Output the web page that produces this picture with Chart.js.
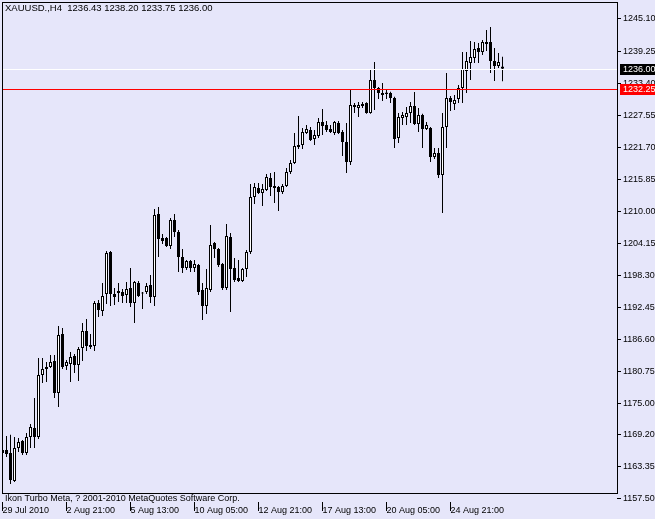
<!DOCTYPE html>
<html>
<head>
<meta charset="utf-8">
<script src="https://cdn.jsdelivr.net/npm/chart.js@4/dist/chart.umd.min.js"></script>
<style>
html, body { margin: 0; padding: 0; background: #e6e6fa; }
canvas { display: block; }
</style>
</head>
<body>
<canvas id="xau" width="655" height="519"></canvas>
<script>
// XAUUSD H4 bars, one entry per bar (bar 0 is cut by the left edge)
var opens = [
  1165.90, 1166.45, 1165.90, 1160.79, 1166.81, 1168.09, 1165.90, 1168.82, 1170.46, 1168.82,
  1180.13, 1181.23, 1181.59, 1182.69, 1176.85, 1187.62, 1181.77, 1182.14, 1183.60, 1181.96,
  1185.06, 1188.16, 1185.61, 1185.43, 1193.27, 1191.81, 1194.91, 1202.58, 1194.91, 1195.46,
  1195.28, 1194.73, 1196.01, 1193.27, 1196.92, 1195.10, 1195.28, 1196.56, 1194.37, 1209.52,
  1205.14, 1205.14, 1203.67, 1208.42, 1206.23, 1201.67, 1199.66, 1200.94, 1199.66, 1200.21,
  1195.64, 1192.73, 1195.64, 1204.22, 1203.13, 1200.39, 1196.01, 1205.32, 1199.66, 1197.84,
  1197.29, 1199.48, 1202.58, 1212.62, 1214.26, 1213.35, 1213.89, 1216.08, 1214.62, 1214.44,
  1213.53, 1214.62, 1217.18, 1218.82, 1222.10, 1222.10, 1224.30, 1224.84, 1223.20, 1223.75,
  1226.30, 1225.76, 1225.03, 1224.30, 1226.12, 1224.48, 1222.65, 1219.00, 1229.04, 1228.86,
  1229.22, 1229.77, 1227.95, 1233.97, 1232.51, 1231.60, 1231.42, 1231.60, 1230.69, 1223.38,
  1227.03, 1227.22, 1227.95, 1229.22, 1225.94, 1227.58, 1225.03, 1225.21, 1219.91, 1220.65,
  1216.63, 1225.39, 1230.69, 1229.59, 1230.50, 1232.51, 1235.61, 1237.07, 1237.99, 1239.81,
  1239.08, 1240.91, 1240.91, 1237.44, 1236.52, 1236.43
];
var highs = [
  1167.36, 1169.00, 1169.20, 1168.82, 1168.64, 1168.27, 1169.55, 1171.19, 1175.93, 1183.24,
  1183.24, 1182.50, 1183.78, 1183.78, 1189.08, 1188.71, 1182.87, 1184.33, 1183.97, 1185.24,
  1189.62, 1190.35, 1187.62, 1193.64, 1193.82, 1196.92, 1202.76, 1202.76, 1196.01, 1196.92,
  1195.83, 1197.11, 1199.66, 1197.29, 1197.29, 1195.28, 1196.92, 1198.38, 1210.43, 1210.79,
  1205.87, 1205.32, 1208.79, 1209.52, 1206.60, 1203.13, 1201.12, 1201.12, 1201.12, 1200.39,
  1196.92, 1199.48, 1207.51, 1204.40, 1203.30, 1200.57, 1207.69, 1206.05, 1201.48, 1201.12,
  1199.66, 1202.94, 1214.99, 1215.17, 1215.17, 1214.99, 1216.81, 1217.00, 1217.18, 1214.62,
  1214.99, 1217.91, 1219.37, 1224.30, 1227.40, 1225.21, 1225.76, 1225.39, 1224.84, 1227.03,
  1228.68, 1226.49, 1225.76, 1226.49, 1226.49, 1224.84, 1226.12, 1232.15, 1229.77, 1229.96,
  1229.96, 1229.90, 1235.79, 1237.26, 1232.69, 1233.42, 1232.15, 1231.80, 1230.90, 1227.95,
  1228.13, 1229.04, 1229.96, 1231.78, 1228.86, 1227.80, 1226.30, 1225.39, 1221.56, 1221.56,
  1227.95, 1235.25, 1231.05, 1231.23, 1233.06, 1239.08, 1239.08, 1241.09, 1240.91, 1240.72,
  1241.27, 1243.10, 1243.64, 1239.81, 1238.90, 1238.20
];
var lows = [
  1164.26, 1165.17, 1160.24, 1160.60, 1166.08, 1165.53, 1165.53, 1166.81, 1166.81, 1168.46,
  1178.67, 1178.85, 1181.41, 1175.93, 1174.29, 1181.23, 1181.05, 1178.85, 1180.50, 1179.04,
  1182.69, 1184.51, 1184.88, 1184.51, 1190.72, 1190.90, 1193.09, 1192.73, 1192.91, 1193.46,
  1193.27, 1193.27, 1192.54, 1189.62, 1194.37, 1192.18, 1194.91, 1193.27, 1192.73, 1201.67,
  1204.04, 1203.50, 1203.13, 1205.32, 1198.93, 1198.75, 1199.30, 1198.93, 1198.93, 1194.73,
  1190.17, 1191.27, 1195.28, 1201.48, 1199.85, 1195.64, 1195.64, 1191.63, 1197.11, 1197.11,
  1197.11, 1198.02, 1202.21, 1211.34, 1213.16, 1210.97, 1213.71, 1212.80, 1211.52, 1210.06,
  1213.16, 1214.44, 1216.81, 1218.64, 1221.37, 1221.37, 1224.11, 1222.84, 1222.10, 1223.38,
  1223.93, 1224.48, 1224.30, 1223.93, 1224.11, 1220.10, 1217.00, 1218.45, 1227.95, 1227.22,
  1228.86, 1227.80, 1227.80, 1228.49, 1230.50, 1230.14, 1230.50, 1229.77, 1221.56, 1222.47,
  1225.76, 1225.76, 1226.12, 1225.76, 1224.48, 1221.56, 1224.84, 1219.00, 1219.55, 1216.08,
  1209.70, 1221.56, 1228.31, 1228.49, 1229.77, 1229.77, 1231.60, 1233.97, 1237.07, 1237.07,
  1238.53, 1239.26, 1235.25, 1233.79, 1236.16, 1233.75
];
var closes = [
  1166.45, 1165.72, 1160.97, 1166.81, 1167.91, 1165.90, 1168.82, 1170.65, 1168.82, 1180.13,
  1181.23, 1181.59, 1182.50, 1176.85, 1187.43, 1181.59, 1182.50, 1183.42, 1181.96, 1184.88,
  1188.16, 1185.43, 1185.24, 1193.27, 1192.00, 1194.55, 1202.40, 1194.91, 1194.37, 1195.10,
  1194.55, 1195.83, 1193.27, 1197.11, 1194.55, 1195.00, 1196.37, 1194.37, 1209.33, 1204.95,
  1204.59, 1203.67, 1208.42, 1206.23, 1201.67, 1199.66, 1200.94, 1199.66, 1200.39, 1195.28,
  1192.73, 1196.01, 1203.86, 1203.13, 1200.21, 1196.01, 1205.50, 1199.48, 1197.47, 1197.29,
  1199.48, 1202.58, 1212.62, 1214.44, 1213.35, 1214.08, 1216.27, 1214.44, 1214.26, 1213.53,
  1214.62, 1217.18, 1218.82, 1221.92, 1221.74, 1224.48, 1225.03, 1223.02, 1223.93, 1226.30,
  1225.57, 1224.84, 1224.48, 1226.30, 1224.30, 1222.65, 1219.00, 1229.41, 1229.41, 1229.41,
  1229.59, 1227.95, 1233.97, 1232.51, 1231.60, 1231.23, 1231.70, 1230.69, 1223.20, 1227.22,
  1227.58, 1227.95, 1229.22, 1225.94, 1227.58, 1225.03, 1225.76, 1219.91, 1220.65, 1216.63,
  1225.39, 1230.69, 1229.96, 1230.32, 1232.51, 1235.98, 1237.44, 1238.17, 1239.63, 1239.08,
  1240.91, 1240.54, 1237.44, 1236.52, 1237.26, 1236.00
];

var priceTicks = [1245.10, 1239.25, 1233.40, 1227.55, 1221.70, 1215.85, 1210.00, 1204.15,
  1198.30, 1192.45, 1186.60, 1180.75, 1175.00, 1169.20, 1163.35, 1157.50];
var timeTickBars = [0, 16, 32, 48, 64, 80, 96, 112];
var timeTickLabels = ['29 Jul 2010', '2 Aug 21:00', '5 Aug 13:00', '10 Aug 05:00',
  '12 Aug 21:00', '17 Aug 13:00', '20 Aug 05:00', '24 Aug 21:00'];

var bidPrice = 1236.00;
var levelPrice = 1232.25;
var header = 'XAUUSD.,H4  1236.43 1238.20 1233.75 1236.00';
var copyright = 'Ikon Turbo Meta, ? 2001-2010 MetaQuotes Software Corp.';

var font = '9px "Liberation Sans"';
Chart.defaults.font.family = '"Liberation Sans", Arial, sans-serif';
Chart.defaults.font.size = 9;
Chart.defaults.color = '#000000';

var wicks = [], bodies = [], bodyColors = [];
for (var i = 0; i < opens.length; i++) {
  wicks.push({ x: i, y: [lows[i], highs[i]] });
  bodies.push({ x: i, y: [opens[i], closes[i]] });
  bodyColors.push(closes[i] >= opens[i] ? '#ffffff' : '#000000');
}

var mt4 = {
  id: 'mt4',
  afterDraw: function (chart) {
    var ctx = chart.ctx, a = chart.chartArea, ys = chart.scales.y, xs = chart.scales.x;
    ctx.save();

    // bid line and the red level line
    ctx.fillStyle = 'white';
    ctx.fillRect(a.left, Math.round(ys.getPixelForValue(bidPrice)), a.right - a.left, 1);
    ctx.fillStyle = 'red';
    ctx.fillRect(a.left, Math.round(ys.getPixelForValue(levelPrice)), a.right - a.left, 1);

    ctx.strokeStyle = '#000000';
    ctx.lineWidth = 1;
    ctx.strokeRect(a.left + 0.5, a.top + 0.5, a.right - a.left, a.bottom - a.top);

    // time separators next to the labels
    ctx.beginPath();
    timeTickBars.forEach(function (b) {
      var px = Math.floor(xs.getPixelForValue(b)) + 0.5;
      ctx.moveTo(px, a.bottom + 9);
      ctx.lineTo(px, a.bottom + 18);
    });
    ctx.stroke();

    ctx.fillStyle = '#000000';
    ctx.textAlign = 'left';
    ctx.textBaseline = 'top';
    ctx.font = '9.5px "Liberation Sans"';
    ctx.fillText(header, a.left + 3, a.top + 2);
    ctx.font = font;
    ctx.textBaseline = 'middle';
    ctx.fillText(copyright, a.left + 3, a.bottom + 6);

    // price boxes on the scale
    [[bidPrice, '#000000'], [levelPrice, '#ff0000']].forEach(function (l) {
      var py = Math.round(ys.getPixelForValue(l[0]));
      ctx.fillStyle = l[1];
      ctx.fillRect(a.right + 3, py - 5, chart.width - a.right - 3, 11);
      ctx.fillStyle = '#ffffff';
      ctx.fillText(l[0].toFixed(2), a.right + 6, py + 0.5);
    });
    ctx.restore();
  }
};

var chartXau = new Chart(document.getElementById('xau').getContext('2d'), {
  type: 'bar',
  data: {
    datasets: [{
      label: 'body',
      data: bodies,
      order: 0,
      grouped: false,
      barThickness: 3,
      minBarLength: 1,
      backgroundColor: bodyColors,
      borderColor: '#000000',
      borderWidth: 1,
      borderSkipped: false,
      inflateAmount: 0
    }, {
      label: 'wick',
      data: wicks,
      order: 1,
      grouped: false,
      barThickness: 1,
      backgroundColor: '#000000',
      borderWidth: 0,
      inflateAmount: 0
    }]
  },
  options: {
    responsive: false,
    animation: false,
    devicePixelRatio: 1,
    layout: { padding: { left: 2, top: 2, right: 0, bottom: 0 } },
    plugins: { legend: { display: false }, tooltip: { enabled: false } },
    scales: {
      x: {
        type: 'linear',
        offset: false,
        min: -0.125,
        max: 153.625,
        grid: { display: false, offset: false },
        border: { display: false },
        afterBuildTicks: function (s) {
          s.ticks = timeTickBars.map(function (v) { return { value: v }; });
        },
        afterFit: function (s) {
          s.height = 26;
          s.paddingLeft = 0;
          s.paddingRight = 0;
        },
        ticks: {
          autoSkip: false,
          maxRotation: 0,
          minRotation: 0,
          align: 'start',
          padding: 4,
          callback: function (v) {
            var k = timeTickBars.indexOf(v);
            return k < 0 ? '' : timeTickLabels[k];
          }
        }
      },
      y: {
        type: 'linear',
        position: 'right',
        min: 1158.59,
        max: 1248.20,
        grid: { drawOnChartArea: false, drawTicks: true, tickLength: 4, color: '#000000' },
        border: { display: false },
        afterBuildTicks: function (s) {
          s.ticks = priceTicks.map(function (v) { return { value: v }; });
        },
        afterFit: function (s) {
          s.width = 38;
          s.paddingTop = 0;
          s.paddingBottom = 0;
        },
        ticks: {
          autoSkip: false,
          padding: 2,
          callback: function (v) { return v.toFixed(2); }
        }
      }
    }
  },
  plugins: [mt4]
});
</script>
</body>
</html>
